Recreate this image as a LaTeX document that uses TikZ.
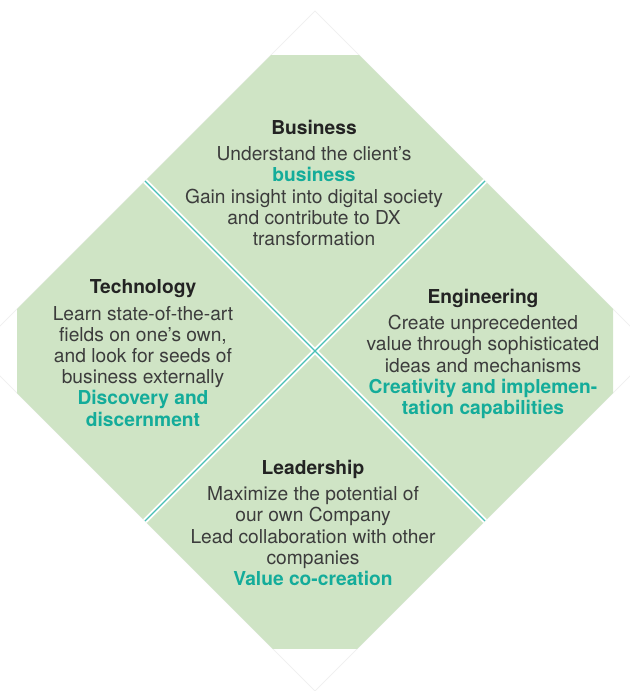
\documentclass[tikz,border=0pt]{standalone}
\usepackage{fontspec}
\setmainfont{TeX Gyre Heros}
\usepackage{xcolor}
\usepackage{tikz}
\usetikzlibrary{positioning}

\definecolor{leafgreen}{RGB}{207,228,197}
\definecolor{tealline}{RGB}{72,192,182}
\definecolor{tealtext}{RGB}{20,172,154}
\definecolor{bodygray}{RGB}{60,60,60}
\definecolor{titlegray}{RGB}{35,35,35}
\newcommand{\tealbf}[1]{{\color{tealtext}\bfseries #1}}
\newcommand{\quadtitle}[1]{{\color{titlegray}\bfseries #1}\\[2.5pt]}

\begin{document}
\begin{tikzpicture}[x=0.5pt, y=-0.5pt,
    quadtext/.style={align=center, text=bodygray, inner sep=0pt,
      font=\fontsize{9.6}{10.6}\selectfont},
    divider/.style={white, line width=2.6pt},
    seam/.style={tealline, line width=0.6pt}]
  \useasboundingbox (0,0) rectangle (630,691);

  % faint outline of the whole diamond
  \draw[black!6, line width=0.4pt] (315,11) -- (655,351) -- (315,691) -- (-25,351) -- cycle;

  % green diamond, corners cut off
  \begin{scope}
    \clip (17,55) rectangle (613,648);
    \fill[leafgreen] (315,11) -- (655,351) -- (315,691) -- (-25,351) -- cycle;
  \end{scope}

  % cross between the four fields
  \coordinate (tl) at (145,181);
  \coordinate (tr) at (485,181);
  \coordinate (bl) at (145,521);
  \coordinate (br) at (485,521);
  \draw[divider] (tl) -- (br);
  \draw[divider] (tr) -- (bl);
  \draw[seam] (tl) -- (br);
  \draw[seam] (tr) -- (bl);

  % Business
  \node[quadtext] (business) at (314,183) {\quadtitle{Business}
    Understand the client’s\\
    \tealbf{business}\\
    Gain insight into digital society\\
    and contribute to DX\\
    transformation};

  % Technology
  \node[quadtext] (technology) at (143,353) {\quadtitle{Technology}
    Learn state-of-the-art\\
    fields on one’s own,\\
    and look for seeds of\\
    business externally\\
    \tealbf{Discovery and}\\
    \tealbf{discernment}};

  % Engineering
  \node[quadtext] (engineering) at (483,354) {\quadtitle{Engineering}
    Create unprecedented\\
    value through sophisticated\\
    ideas and mechanisms\\
    \tealbf{Creativity and implemen-}\\
    \tealbf{tation capabilities}};

  % Leadership
  \node[quadtext] (leadership) at (313,523) {\quadtitle{Leadership}
    Maximize the potential of\\
    our own Company\\
    Lead collaboration with other\\
    companies\\
    \tealbf{Value co-creation}};
\end{tikzpicture}
\end{document}
